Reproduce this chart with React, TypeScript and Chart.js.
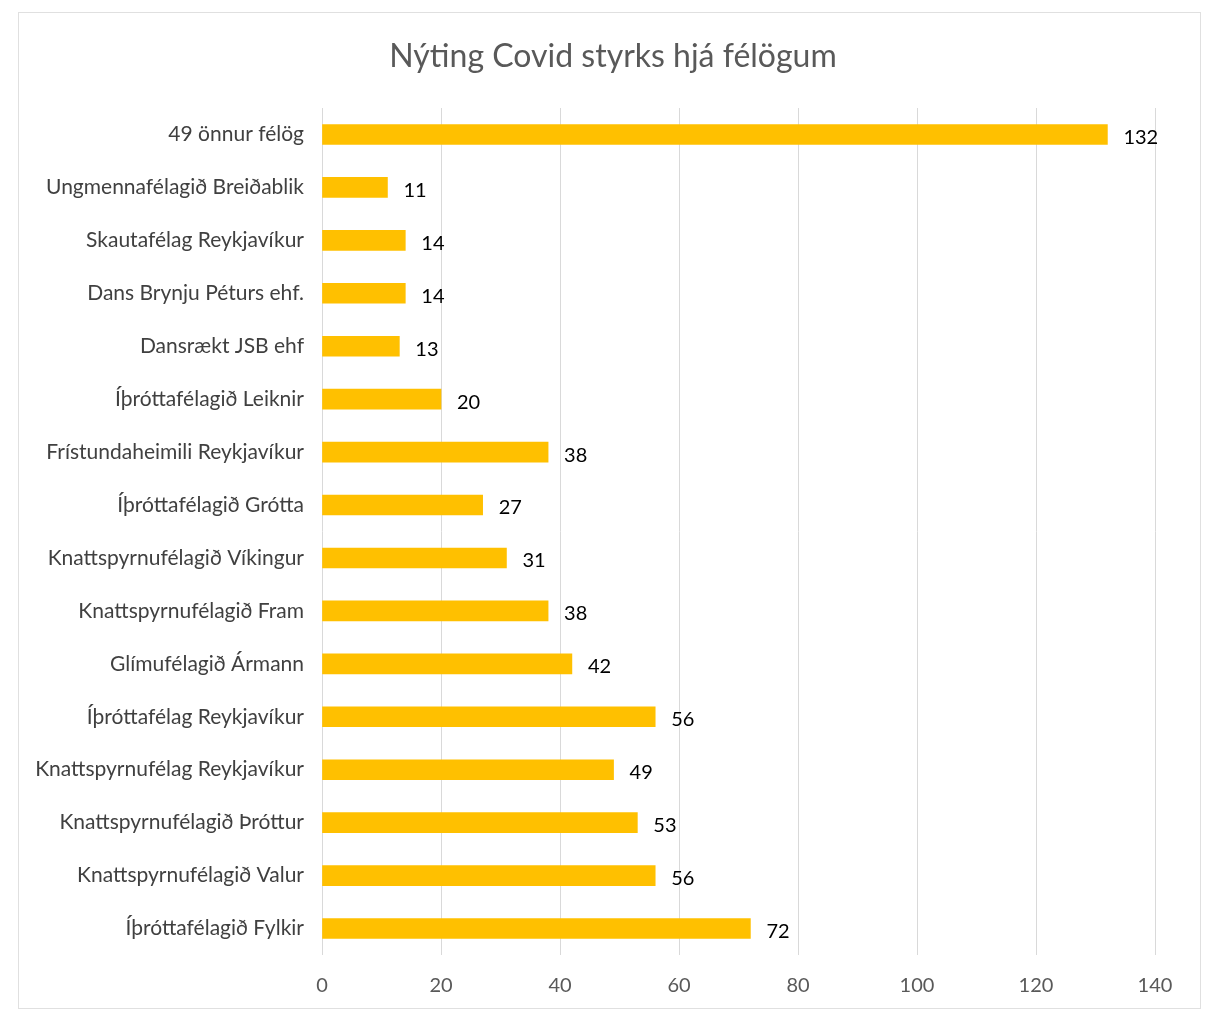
import React, { useEffect, useRef } from "react";
import { Chart, registerables } from "chart.js";

Chart.register(...registerables);

const TITLE = "Nýting Covid styrks hjá félögum";

const categories: string[] = [
  "49 önnur félög",
  "Ungmennafélagið Breiðablik",
  "Skautafélag Reykjavíkur",
  "Dans Brynju Péturs ehf.",
  "Dansrækt JSB ehf",
  "Íþróttafélagið Leiknir",
  "Frístundaheimili Reykjavíkur",
  "Íþróttafélagið Grótta",
  "Knattspyrnufélagið Víkingur",
  "Knattspyrnufélagið Fram",
  "Glímufélagið Ármann",
  "Íþróttafélag Reykjavíkur",
  "Knattspyrnufélag Reykjavíkur",
  "Knattspyrnufélagið Þróttur",
  "Knattspyrnufélagið Valur",
  "Íþróttafélagið Fylkir",
];

const values: number[] = [132, 11, 14, 14, 13, 20, 38, 27, 31, 38, 42, 56, 49, 53, 56, 72];

const xMin = 0;
const xMax = 140;
const xStep = 20;

const FONT = "Lato, 'Open Sans', sans-serif";

export default function App() {
  const ref = useRef<HTMLCanvasElement | null>(null);

  useEffect(() => {
    document.body.style.margin = "0";
    const canvas = ref.current;
    if (!canvas) return;

    const framePlugin = {
      id: "frameAndTitle",
      beforeDraw(chart: any) {
        const { ctx } = chart;
        ctx.save();
        ctx.fillStyle = "#ffffff";
        ctx.fillRect(0, 0, chart.width, chart.height);
        ctx.strokeStyle = "#e0e0e0";
        ctx.lineWidth = 1;
        ctx.strokeRect(18.5, 12.5, 1182, 996);
        ctx.fillStyle = "#595959";
        ctx.font = `32px ${FONT}`;
        ctx.textAlign = "center";
        ctx.textBaseline = "middle";
        ctx.fillText(TITLE, 613, 57);
        ctx.restore();
      },
    };

    const valueLabels = {
      id: "valueLabels",
      afterDatasetsDraw(chart: any) {
        const { ctx } = chart;
        const meta = chart.getDatasetMeta(0);
        ctx.save();
        ctx.fillStyle = "#000000";
        ctx.font = `20px ${FONT}`;
        ctx.textAlign = "left";
        ctx.textBaseline = "middle";
        meta.data.forEach((bar: any, i: number) => {
          ctx.fillText(String(values[i]), bar.x + 16, bar.y + 3);
        });
        ctx.restore();
      },
    };

    const chart = new Chart(canvas, {
      type: "bar",
      data: {
        labels: categories,
        datasets: [
          {
            data: values,
            backgroundColor: "#FFC000",
            borderWidth: 0,
            barThickness: 20,
          },
        ],
      },
      options: {
        indexAxis: "y",
        animation: false,
        responsive: false,
        maintainAspectRatio: false,
        layout: { padding: { left: 0, right: 55, top: 108, bottom: 0 } },
        plugins: {
          legend: { display: false },
          title: { display: false },
          tooltip: { enabled: false },
        },
        scales: {
          x: {
            min: xMin,
            max: xMax,
            ticks: {
              stepSize: xStep,
              color: "#595959",
              font: { family: FONT, size: 20 },
              padding: 19,
            },
            grid: { color: "#d9d9d9", drawTicks: false },
            border: { display: false },
            afterFit(scale: any) {
              scale.height = 57;
            },
          },
          y: {
            ticks: {
              color: "#404040",
              font: { family: FONT, size: 21 },
              padding: 18,
            },
            grid: { display: false, drawTicks: false },
            border: { display: false },
            afterFit(scale: any) {
              scale.width = 322;
            },
          },
        },
      },
      plugins: [framePlugin, valueLabels],
    } as any);

    return () => chart.destroy();
  }, []);

  return <canvas ref={ref} width={1210} height={1012} style={{ display: "block" }} />;
}
